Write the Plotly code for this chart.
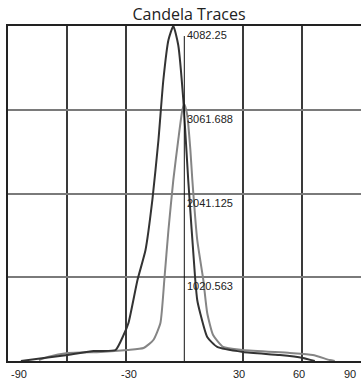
import plotly.graph_objects as go

# Trace A (dark): angle (deg) vs candela
angle_a = [-83.4, -71.7, -59.5, -46.3, -35.1, -31.0, -28.5, -23.9, -19.8, -16.3, -13.2, -10.7, -8.1, -5.6,
           -3.1, -0.5, 2.0, 5.6, 6.6, 8.1, 11.7, 16.8, 30.0, 48.8, 60.5, 66.6]
cd_a = [0, 37, 73, 122, 134, 317, 463, 987, 1353, 1962, 2693, 3424, 3912, 4082.25,
        3851, 3181, 2206, 987, 743, 585, 292, 171, 110, 73, 37, 0]

# Trace B (grey)
angle_b = [-74.2, -69.7, -59.5, -42.7, -29.0, -20.8, -15.8, -12.2, -10.2, -8.1, -5.6, -3.1, -1.0, 0.0,
           1.5, 3.1, 4.1, 6.6, 9.7, 11.7, 14.7, 19.8, 30.0, 53.9, 65.6, 74.2, 76.8]
cd_b = [12, 49, 97, 110, 134, 158, 256, 463, 987, 1596, 2206, 2693, 3059, 3130,
        2998, 2571, 2206, 1475, 987, 585, 317, 171, 134, 97, 73, 12, 0]

max_cd = 4082.25
level_labels = ["4082.25", "3061.688", "2041.125", "1020.563"]
level_values = [4082.25, 3061.688, 2041.125, 1020.563]
x_tick_vals = [-90, -30, 30, 60, 90]
x_tick_text = ["-90", "-30", "30", "60", "90"]
x_tick_shift = [11, 3, -4, -3, -11]

fig = go.Figure()
fig.add_trace(go.Scatter(x=angle_b, y=cd_b, mode="lines",
                         line=dict(color="#858585", width=2, shape="spline", smoothing=0.5),
                         hoverinfo="skip"))
fig.add_trace(go.Scatter(x=angle_a, y=cd_a, mode="lines",
                         line=dict(color="#333333", width=2, shape="spline", smoothing=0.5),
                         hoverinfo="skip"))

# center line
fig.add_shape(type="line", x0=0, x1=0, y0=0, y1=3960, xref="x", yref="y",
              line=dict(color="#111111", width=1), layer="above")

for t, v in zip(level_labels, level_values):
    fig.add_annotation(x=0, y=v, xref="x", yref="y", text=t, showarrow=False,
                       xanchor="left", yanchor="top", xshift=1, yshift=-1,
                       font=dict(family="Liberation Sans, Arial", size=11, color="#222222"))

for v, t, s in zip(x_tick_vals, x_tick_text, x_tick_shift):
    fig.add_annotation(x=v, y=0, xref="x", yref="paper", text=t, showarrow=False,
                       xanchor="center", yanchor="top", xshift=s, yshift=-5,
                       font=dict(family="Liberation Sans, Arial", size=11, color="#222222"))

fig.update_layout(
    width=361, height=381,
    margin=dict(l=8, r=0, t=26, b=20),
    paper_bgcolor="white", plot_bgcolor="white",
    showlegend=False,
    title=dict(text="Candela Traces", x=189/361, xref="container", xanchor="center",
               y=1 - 14/381, yref="container", yanchor="middle",
               font=dict(family="Open Sans", size=16, color="#222222")),
    xaxis=dict(range=[-90, 90.2], tickvals=[-60, -30, 30, 60], showticklabels=False,
               showgrid=True, gridcolor="#3a3a3a", gridwidth=1.5, zeroline=False,
               showline=True, linecolor="#222222", linewidth=2, mirror=True, ticks=""),
    yaxis=dict(range=[0, max_cd], tickvals=[1020.563, 2041.125, 3061.688], showticklabels=False,
               showgrid=True, gridcolor="#7a7a7a", gridwidth=2, zeroline=False,
               showline=True, linecolor="#222222", linewidth=2, mirror=False, ticks=""),
)

fig.write_html("out.html", config={"displayModeBar": False},
               post_script="document.body.style.margin='0';document.body.style.overflow='hidden';")
